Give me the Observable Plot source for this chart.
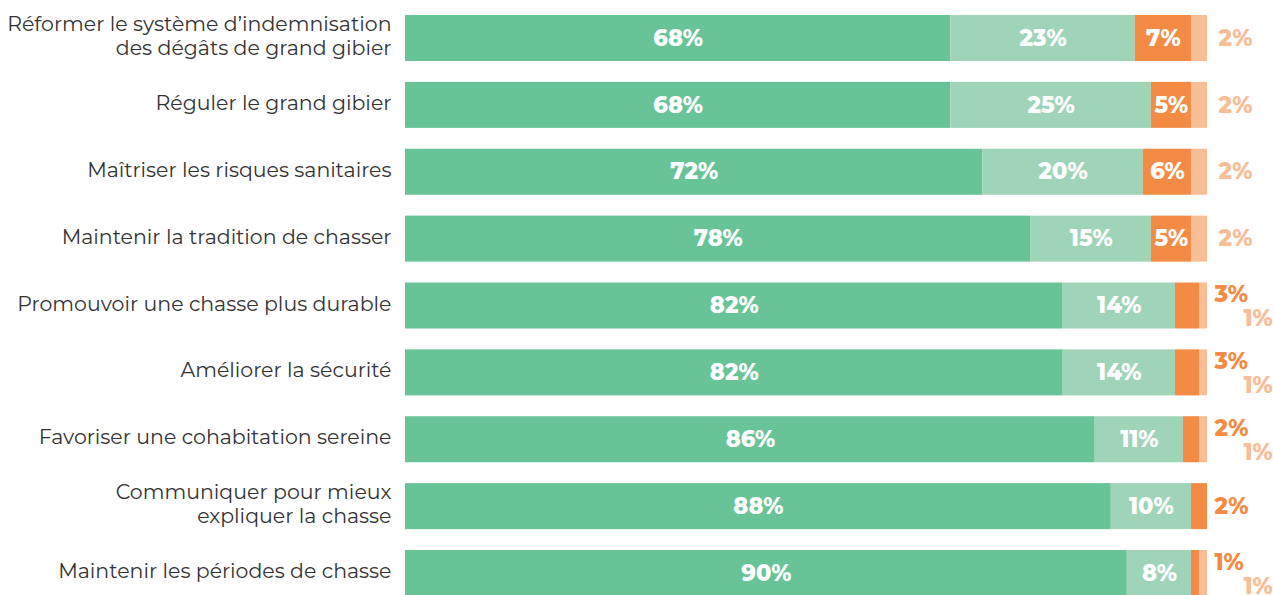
<!DOCTYPE html>
<html>
<head>
<meta charset="utf-8">
<script src="https://cdn.jsdelivr.net/npm/d3@7"></script>
<script src="https://cdn.jsdelivr.net/npm/@observablehq/plot@0.6"></script>
<style>
  html, body { margin: 0; padding: 0; background: #fff; }
  #chart { width: 1273px; height: 595px; overflow: hidden; }
</style>
</head>
<body>
<div id="chart"></div>
<script>
const categories = [
  "Réformer le système d’indemnisation\ndes dégâts de grand gibier",
  "Réguler le grand gibier",
  "Maîtriser les risques sanitaires",
  "Maintenir la tradition de chasser",
  "Promouvoir une chasse plus durable",
  "Améliorer la sécurité",
  "Favoriser une cohabitation sereine",
  "Communiquer pour mieux\nexpliquer la chasse",
  "Maintenir les périodes de chasse"
];
const tresImportant   = [68, 68, 72, 78, 82, 82, 86, 88, 90];
const plutotImportant = [23, 25, 20, 15, 14, 14, 11, 10, 8];
const peuImportant    = [7, 5, 6, 5, 3, 3, 2, 2, 1];
const pasImportant    = [2, 2, 2, 2, 1, 1, 1, 0, 1];

const seriesNames = ["Très important", "Plutôt important", "Peu important", "Pas important"];
const seriesValues = [tresImportant, plutotImportant, peuImportant, pasImportant];
const colors = ["#68C497", "#9FD4B9", "#F48B44", "#F9BE96"];

const segs = [];
categories.forEach((cat, i) => {
  let acc = 0;
  seriesValues.forEach((vals, s) => {
    const v = vals[i];
    segs.push({cat, series: seriesNames[s], s, v, x1: acc, x2: acc + v, i});
    acc += v;
  });
});

const inside = segs.filter(d => d.v >= 4);
const outside = [];
categories.forEach((cat, i) => {
  const orangeInside = peuImportant[i] >= 4;
  const hasLight = pasImportant[i] > 0;
  if (!orangeInside) {
    outside.push({cat, v: peuImportant[i], s: 2, dx: 7, dy: hasLight ? -11 : 0});
  }
  if (hasLight) {
    outside.push({cat, v: pasImportant[i], s: 3, dx: orangeInside ? 11 : 36, dy: orangeInside ? 0 : 13});
  }
});

const fontFam = "Montserrat, 'Open Sans', sans-serif";

const marks = [
  Plot.barX(segs, {x1: "x1", x2: "x2", y: "cat", fill: d => colors[d.s]}),
  Plot.text(inside, {
    x: d => (d.x1 + d.x2) / 2, y: "cat", text: d => d.v + "%",
    fill: "white", fontSize: 22.5, fontWeight: 800, fontFamily: fontFam
  })
];
for (const grp of [...new Set(outside.map(d => d.dx + "_" + d.dy))]) {
  const rows = outside.filter(d => d.dx + "_" + d.dy === grp);
  marks.push(Plot.text(rows, {
    x: () => 100, y: "cat", text: d => d.v + "%",
    fill: d => colors[d.s], textAnchor: "start",
    dx: rows[0].dx, dy: rows[0].dy,
    fontSize: 22.5, fontWeight: 800, fontFamily: fontFam
  }));
}
marks.push(Plot.axisY({
  tickSize: 0, tickPadding: 14, label: null, dy: -3,
  fontSize: 20.5, lineHeight: 1.15, fill: "#333", fontFamily: fontFam
}));

const chart = Plot.plot({
  width: 1273,
  height: 595,
  marginLeft: 405,
  marginRight: 66,
  marginTop: 15,
  marginBottom: -1,
  x: {domain: [0, 100], axis: null},
  y: {domain: categories, paddingInner: 0.312, paddingOuter: 0, round: false, axis: null},
  style: {fontFamily: fontFam, fontSize: "20px", color: "#333", background: "white"},
  marks
});
document.getElementById("chart").appendChild(chart);
</script>
</body>
</html>
